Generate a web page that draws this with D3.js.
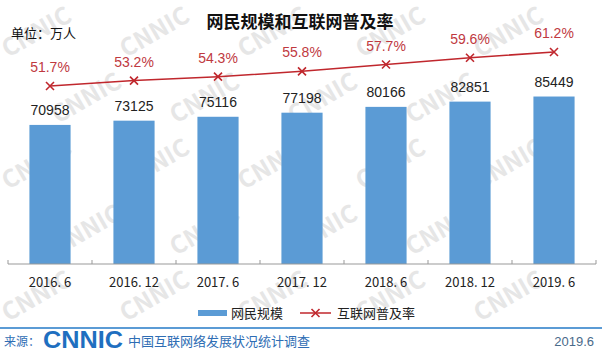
<!DOCTYPE html>
<meta charset="utf-8">
<script src="https://d3js.org/d3.v7.min.js"></script>
<style>
  body { margin: 0; background: #fff; }
  text { font-family: "Noto Sans CJK SC", "Liberation Sans", sans-serif; }
</style>
<div id="chart"></div>
<script>
// data
var periods = ["2016. 6", "2016. 12", "2017. 6", "2017. 12", "2018. 6", "2018. 12", "2019. 6"];
var users = [70958, 73125, 75116, 77198, 80166, 82851, 85449];
var rates = [51.7, 53.2, 54.3, 55.8, 57.7, 59.6, 61.2];

var W = 602, H = 352;
var svg = d3.select("#chart").append("svg")
    .attr("width", W).attr("height", H);

// watermark, kept inside the picture
var wm = svg.append("g").attr("fill", "#e6e6e6").attr("font-weight", "bold")
    .attr("font-size", 24).style("font-family", "Liberation Sans, sans-serif");
for (var r = 0; r < 5; r++) {
  for (var c = 0; c < 5; c++) {
    var tx = 8 + c * 118 + (r % 2) * 50, ty = 58 + r * 66;
    if (tx > 520 || ty > 340) continue;
    wm.append("text")
      .attr("transform", "translate(" + tx + "," + ty + ") rotate(-30)")
      .text("CNNIC");
  }
}

var x = d3.scaleBand().domain(periods).range([8, 596]).paddingInner(0.51).paddingOuter(0.255);
var y = d3.scaleLinear().domain([0, 100000]).range([264, 68]);
var y2 = d3.scaleLinear().domain([0, 70]).range([271, 20.5]);

// title
svg.append("text").attr("x", 300).attr("y", 28).attr("text-anchor", "middle")
  .attr("font-size", 17).attr("font-weight", "bold").attr("fill", "#111")
  .text("网民规模和互联网普及率");
svg.append("text").attr("x", 11).attr("y", 38).attr("font-size", 13).attr("fill", "#111")
  .text("单位：万人");

// bars
svg.append("g").selectAll("rect").data(users).enter().append("rect")
  .attr("x", function (d, i) { return x(periods[i]); })
  .attr("y", function (d) { return y(d); })
  .attr("width", x.bandwidth())
  .attr("height", function (d) { return y(0) - y(d); })
  .attr("fill", "#5b9bd5");

svg.append("g").selectAll("text").data(users).enter().append("text")
  .attr("x", function (d, i) { return x(periods[i]) + x.bandwidth() / 2; })
  .attr("y", function (d) { return y(d) - 10; })
  .attr("text-anchor", "middle").attr("font-size", 14).attr("fill", "#222")
  .style("font-family", "Liberation Sans, sans-serif")
  .text(function (d) { return d; });

// axis
var axis = svg.append("g").attr("transform", "translate(0,264)");
axis.append("line").attr("x1", 8).attr("x2", 596).attr("stroke", "#999");
var step = x.step();
d3.range(periods.length + 1).forEach(function (i) {
  axis.append("line").attr("x1", 8 + i * step).attr("x2", 8 + i * step)
    .attr("y1", 0).attr("y2", -4).attr("stroke", "#999");
});
svg.append("g").selectAll("text").data(periods).enter().append("text")
  .attr("x", function (d) { return x(d) + x.bandwidth() / 2; })
  .attr("y", 287).attr("text-anchor", "middle").attr("font-size", 13).attr("fill", "#222")
  .text(function (d) { return d; });

// line
var cx = function (d, i) { return x(periods[i]) + x.bandwidth() / 2; };
var line = d3.line().x(cx).y(function (d) { return y2(d); });
svg.append("path").datum(rates).attr("d", line)
  .attr("fill", "none").attr("stroke", "#c0272d").attr("stroke-width", 1.5);

function cross(g, px, py, s) {
  g.append("path").attr("d", "M" + (px - s) + "," + (py - s) + "L" + (px + s) + "," + (py + s) +
    "M" + (px - s) + "," + (py + s) + "L" + (px + s) + "," + (py - s))
    .attr("stroke", "#c0272d").attr("stroke-width", 1.6);
}
var mk = svg.append("g");
rates.forEach(function (d, i) { cross(mk, cx(d, i), y2(d), 4); });

svg.append("g").selectAll("text").data(rates).enter().append("text")
  .attr("x", cx).attr("y", function (d) { return y2(d) - 14; })
  .attr("text-anchor", "middle").attr("font-size", 14).attr("fill", "#c0393f")
  .style("font-family", "Liberation Sans, sans-serif")
  .text(function (d) { return d.toFixed(1) + "%"; });

// legend
svg.append("rect").attr("x", 198).attr("y", 310).attr("width", 29).attr("height", 6).attr("fill", "#5b9bd5");
svg.append("text").attr("x", 231).attr("y", 318).attr("font-size", 13).attr("fill", "#222").text("网民规模");
svg.append("line").attr("x1", 300).attr("x2", 331).attr("y1", 313).attr("y2", 313)
  .attr("stroke", "#c0272d").attr("stroke-width", 1.5);
cross(svg, 315.5, 313, 4);
svg.append("text").attr("x", 337).attr("y", 318).attr("font-size", 13).attr("fill", "#222").text("互联网普及率");

// footer
svg.append("line").attr("x1", 0).attr("x2", W).attr("y1", 328).attr("y2", 328)
  .attr("stroke", "#5b9bd5").attr("stroke-width", 2);
svg.append("text").attr("x", 4).attr("y", 346).attr("font-size", 12).attr("fill", "#2e6db4").text("来源：");
svg.append("text").attr("x", 43).attr("y", 348).attr("font-size", 24).attr("font-weight", "bold")
  .attr("fill", "#1f6fc0").attr("textLength", 80).attr("lengthAdjust", "spacingAndGlyphs")
  .style("font-family", "Liberation Sans, sans-serif").text("CNNIC");
svg.append("text").attr("x", 128).attr("y", 346).attr("font-size", 13).attr("fill", "#2e6db4")
  .text("中国互联网络发展状况统计调查");
svg.append("text").attr("x", 594).attr("y", 346).attr("text-anchor", "end").attr("font-size", 13)
  .attr("fill", "#4a6a8a").style("font-family", "Liberation Sans, sans-serif").text("2019.6");
</script>
